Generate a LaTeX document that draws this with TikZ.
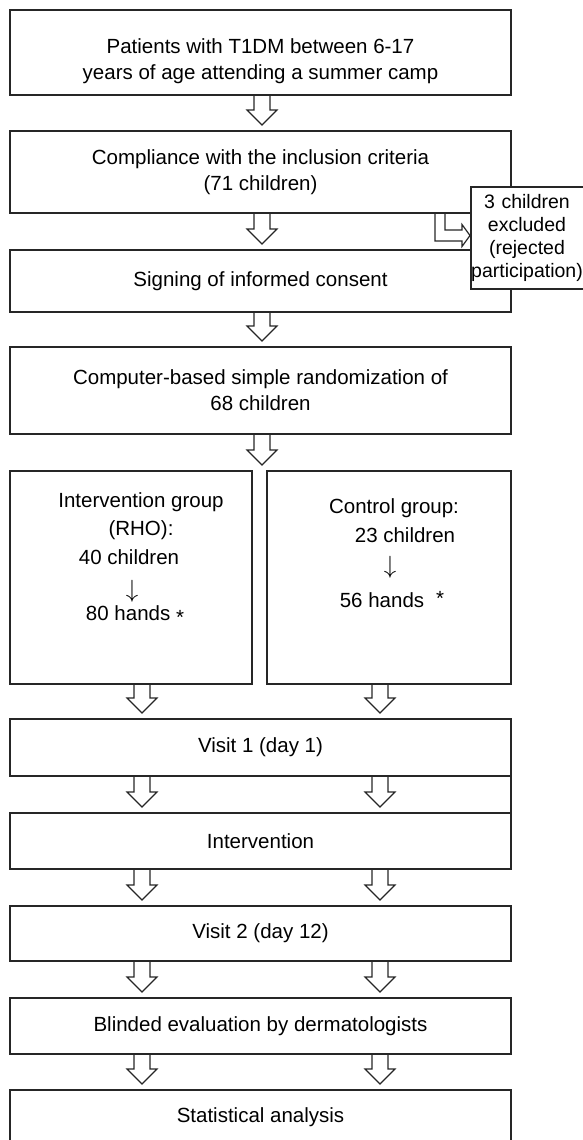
\documentclass[tikz,border=0pt]{standalone}
\usepackage{fontspec}
\setmainfont{Liberation Sans}
\usetikzlibrary{calc}

\tikzset{
  box/.style={draw=black!85, line width=1.5pt, fill=white, minimum width=501pt, inner sep=0pt, outer sep=0pt, align=center, font=\fontsize{20.5}{26}\selectfont},
  exbox/.style={inner sep=0pt, outer sep=0pt, text width=112pt, minimum height=102pt, align=center, font=\fontsize{19.5}{23}\selectfont},
  boxline/.style={draw=black!85, line width=1.5pt},
  flow/.style={draw=black!85, line width=1.2pt, line join=miter},
  txt/.style={inner sep=0pt, font=\fontsize{20.5}{26}\selectfont},
  downarr/.style={inner sep=0pt, font=\fontsize{27}{27}\selectfont},
}

\newcommand{\flowarrow}[3]{%
  \draw[flow] let \p1=(#1 |- #2.south), \p2=(#1 |- #3.north) in
    (\x1-8pt,\y1) -- (\x1-8pt,\y2+21pt) -- (\x1-15pt,\y2+21pt) -- (\x1,\y2+6pt)
    -- (\x1+15pt,\y2+21pt) -- (\x1+8pt,\y2+21pt) -- (\x1+8pt,\y1);}

\begin{document}
\begin{tikzpicture}[x=1pt, y=-1pt]
  \useasboundingbox (0,0) rectangle (583,1140);
  \coordinate (colM) at (262,0);
  \coordinate (colL) at (142,0);
  \coordinate (colR) at (380,0);
  \coordinate (bend) at (440,235.5);

  \begin{scope}[every node/.style={box}]
    \node[minimum height=85pt] (camp) at (260.5,52.5) {\rule{0pt}{33pt}Patients with T1DM between 6-17\\years of age attending a summer camp};
    \node[minimum height=82pt] (comply) at (260.5,172) {Compliance with the inclusion criteria\\(71 children)};
    \node[minimum height=62pt] (consent) at (260.5,281) {Signing of informed consent};
    \node[minimum height=87pt] (random) at (260.5,390.5) {Computer-based simple randomization of\\68 children};
    \node[minimum width=242pt, minimum height=213pt] (rho) at (131,577.5) {};
    \node[minimum width=244pt, minimum height=213pt] (ctrl) at (389,577.5) {};
    \node[minimum height=57pt] (visit1) at (260.5,747.5) {Visit 1 (day 1)};
    \node[minimum height=56pt] (interv) at (260.5,841) {Intervention};
    \node[minimum height=55pt] (visit2) at (260.5,933.5) {Visit 2 (day 12)};
    \node[minimum height=56pt] (blind) at (260.5,1026) {Blinded evaluation by dermatologists};
    \node[minimum height=54pt] (stats) at (260.5,1117) {Statistical analysis};
  \end{scope}

  \fill[white] (471,187) rectangle (600,289);
  \node[exbox, anchor=west] (excl) at (471,238) {3 children\\excluded\\(rejected\\participation)};
  \draw[boxline] ($(excl.north east)+(15pt,0)$) -- (excl.north west) -- (excl.south west) -- ($(excl.south east)+(15pt,0)$);

  \draw[boxline] (visit1.south east) -- (interv.north east);

  \begin{scope}[every node/.style={txt}]
    \node (rho1) at (141,502) {Intervention group};
    \node (rho2) at (141,530) {(RHO):};
    \node (rho3) at (129,557) {40 children};
    \node[downarr] (rho4) at (132,591) {$\downarrow$};
    \node (rho5) at (135,615) {80 hands \raisebox{-4pt}{*}};
    \node (ctrl1) at (394,508) {Control group:};
    \node (ctrl2) at (405,535) {23 children};
    \node[downarr] (ctrl3) at (390,567) {$\downarrow$};
    \node (ctrl4) at (392,600) {56 hands\hspace{12pt}\raisebox{2pt}{*}};
  \end{scope}

  \flowarrow{colM}{camp}{comply}
  \flowarrow{colM}{comply}{consent}
  \flowarrow{colM}{consent}{random}
  \flowarrow{colM}{random}{rho}
  \flowarrow{colL}{rho}{visit1}
  \flowarrow{colR}{ctrl}{visit1}
  \flowarrow{colL}{visit1}{interv}
  \flowarrow{colR}{visit1}{interv}
  \flowarrow{colL}{interv}{visit2}
  \flowarrow{colR}{interv}{visit2}
  \flowarrow{colL}{visit2}{blind}
  \flowarrow{colR}{visit2}{blind}
  \flowarrow{colL}{blind}{stats}
  \flowarrow{colR}{blind}{stats}

  \draw[flow] let \p1=(bend |- comply.south), \p2=(bend -| excl.west) in
    (\x1-5pt,\y1) -- (\x1-5pt,\y2-5.5pt) -- (\x2-9pt,\y2-5.5pt) -- (\x2-9pt,\y2-11pt) -- (\x2-1pt,\y2)
    -- (\x2-9pt,\y2+11pt) -- (\x2-9pt,\y2+5.5pt) -- (\x1+5pt,\y2+5.5pt) -- (\x1+5pt,\y1);
\end{tikzpicture}
\end{document}
